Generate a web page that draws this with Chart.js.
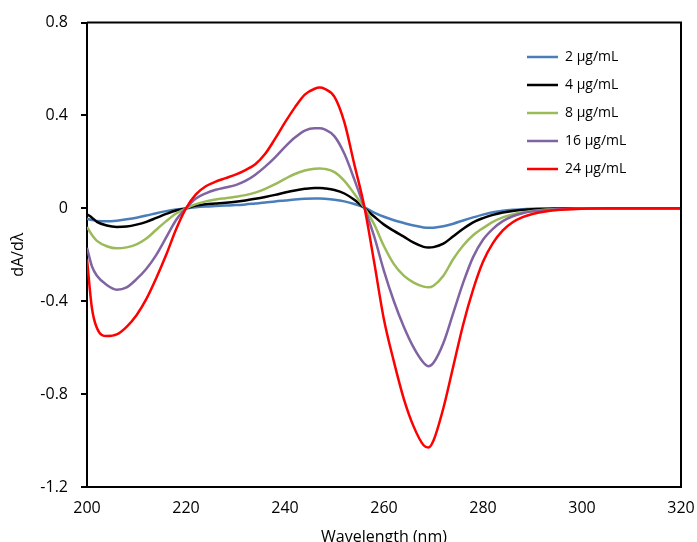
<!DOCTYPE html>
<html>
<head>
<meta charset="utf-8">
<script src="https://cdn.jsdelivr.net/npm/chart.js@4.4.1/dist/chart.umd.min.js"></script>
<style>
  html, body { margin: 0; padding: 0; background: #fff; }
  #wrap { width: 697px; height: 542px; }
</style>
</head>
<body>
<div id="wrap"><canvas id="chart" width="697" height="542"></canvas></div>
<script>
const wavelengths = [200, 201, 202, 204, 206, 208, 210, 212, 214, 216, 218, 220, 222, 224, 226, 228, 230, 232, 234, 236, 238, 240, 242, 244, 246, 247, 248, 250, 252, 254, 256, 258, 260, 262, 264, 266, 268, 269, 270, 272, 274, 276, 278, 280, 282, 284, 286, 288, 290, 295, 300, 305, 310, 315, 320];

const conc2 = [-0.045, -0.05, -0.054, -0.056, -0.053, -0.047, -0.04, -0.031, -0.021, -0.012, -0.005, 0,
  0.005, 0.008, 0.01, 0.012, 0.014, 0.017, 0.021, 0.025, 0.03, 0.034, 0.038, 0.041, 0.042, 0.042, 0.041, 0.037, 0.03, 0.019, 0.004,
  -0.018, -0.036, -0.051, -0.063, -0.074, -0.082, -0.084, -0.083, -0.077, -0.066, -0.052, -0.039, -0.027, -0.017, -0.01, -0.006, -0.004, -0.002, -0.001, 0, 0, 0, 0, 0];

const conc4 = [-0.025, -0.04, -0.058, -0.074, -0.08, -0.078, -0.07, -0.058, -0.041, -0.024, -0.009, 0,
  0.012, 0.018, 0.021, 0.024, 0.028, 0.034, 0.041, 0.049, 0.058, 0.068, 0.077, 0.084, 0.088, 0.088, 0.086, 0.079, 0.064, 0.037, 0.002,
  -0.035, -0.07, -0.097, -0.122, -0.148, -0.166, -0.169, -0.167, -0.152, -0.12, -0.088, -0.06, -0.042, -0.028, -0.018, -0.011, -0.007, -0.004, -0.001, 0, 0, 0, 0, 0];

const conc8 = [-0.08, -0.115, -0.14, -0.163, -0.172, -0.168, -0.155, -0.13, -0.092, -0.055, -0.022, 0,
  0.018, 0.03, 0.038, 0.044, 0.05, 0.057, 0.068, 0.084, 0.104, 0.127, 0.148, 0.163, 0.171, 0.172, 0.17, 0.156, 0.118, 0.063, 0.003,
  -0.068, -0.163, -0.24, -0.29, -0.32, -0.337, -0.34, -0.333, -0.29, -0.218, -0.16, -0.116, -0.085, -0.058, -0.039, -0.026, -0.017, -0.011, -0.003, -0.001, 0, 0, 0, 0];

const conc16 = [-0.17, -0.25, -0.29, -0.33, -0.35, -0.34, -0.305, -0.26, -0.2, -0.125, -0.05, 0,
  0.042, 0.065, 0.08, 0.09, 0.1, 0.118, 0.145, 0.18, 0.22, 0.265, 0.305, 0.335, 0.345, 0.345, 0.34, 0.31, 0.235, 0.125, 0.005,
  -0.12, -0.27, -0.4, -0.51, -0.6, -0.665, -0.68, -0.665, -0.58, -0.45, -0.32, -0.21, -0.135, -0.088, -0.055, -0.034, -0.021, -0.013, -0.004, -0.001, 0, 0, 0, 0];

const conc24 = [-0.22, -0.43, -0.515, -0.55, -0.543, -0.51, -0.46, -0.39, -0.3, -0.2, -0.09, 0,
  0.06, 0.095, 0.115, 0.13, 0.145, 0.165, 0.19, 0.235, 0.3, 0.37, 0.435, 0.49, 0.515, 0.52, 0.515, 0.48, 0.37, 0.19, 0.01,
  -0.23, -0.48, -0.66, -0.82, -0.94, -1.02, -1.03, -1.0, -0.86, -0.68, -0.5, -0.35, -0.23, -0.15, -0.095, -0.06, -0.038, -0.024, -0.007, -0.002, 0, 0, 0, 0];

const seriesNames = ["2 µg/mL", "4 µg/mL", "8 µg/mL", "16 µg/mL", "24 µg/mL"];
const seriesValues = [conc2, conc4, conc8, conc16, conc24];
const seriesColors = ["#4a7ebb", "#000000", "#9bbb59", "#8064a2", "#ff0000"];

const xTicks = [200, 220, 240, 260, 280, 300, 320];
const yTicks = [-1.2, -0.8, -0.4, 0, 0.4, 0.8];
const yTickLabels = ["-1.2", "-0.8", "-0.4", "0", "0.4", "0.8"];

const font = "'Open Sans', 'DejaVu Sans', sans-serif";

// box on top and right of the plot area
const frameBox = {
  id: "frameBox",
  afterDatasetsDraw(chart) {
    const { ctx, chartArea: a } = chart;
    ctx.save();
    ctx.strokeStyle = "#000";
    ctx.lineWidth = 2;
    ctx.beginPath();
    ctx.moveTo(a.left, a.top);
    ctx.lineTo(a.right, a.top);
    ctx.lineTo(a.right, a.bottom);
    ctx.stroke();
    ctx.restore();
  },
};

// put the legend inside the plot, top right
const legendSpot = {
  id: "legendSpot",
  afterLayout(chart) {
    const lg = chart.legend;
    if (!lg) return;
    lg.left = 513;
    lg.top = 36;
    lg.right = lg.left + lg.width;
    lg.bottom = lg.top + 220;
  },
};

const datasets = seriesNames.map((name, i) => ({
  label: name,
  data: wavelengths.map((w, j) => ({ x: w, y: seriesValues[i][j] })),
  borderColor: seriesColors[i],
  backgroundColor: seriesColors[i],
  borderWidth: 2.5,
  pointRadius: 0,
  cubicInterpolationMode: "monotone",
  order: seriesNames.length - 1 - i,
}));

new Chart(document.getElementById("chart"), {
  type: "line",
  data: { datasets },
  plugins: [frameBox, legendSpot],
  options: {
    responsive: false,
    animation: false,
    devicePixelRatio: 1,
    layout: { padding: { top: 20, right: 16, left: 0, bottom: 0 } },
    plugins: {
      tooltip: { enabled: false },
      legend: {
        position: "chartArea",
        align: "start",
        labels: {
          usePointStyle: true,
          pointStyle: "line",
          pointStyleWidth: 31,
          padding: 14,
          color: "#000",
          font: { family: font, size: 14 },
          sort: (a, b) => a.datasetIndex - b.datasetIndex,
        },
      },
    },
    scales: {
      x: {
        type: "linear",
        min: 200,
        max: 320,
        afterFit: (s) => {
          s.height = 55;
          s.paddingLeft = 14;
          s.paddingRight = 14;
        },
        afterBuildTicks: (s) => { s.ticks = xTicks.map((v) => ({ value: v })); },
        grid: { display: true, drawOnChartArea: false, drawTicks: false },
        border: { display: true, color: "#000", width: 2 },
        ticks: { padding: 12, color: "#000", font: { family: font, size: 16 }, maxRotation: 0 },
        title: {
          display: true,
          text: "Wavelength (nm)",
          color: "#000",
          font: { family: font, size: 16 },
          padding: { top: 0, bottom: -5 },
        },
      },
      y: {
        type: "linear",
        min: -1.2,
        max: 0.8,
        afterFit: (s) => { s.width = 87; },
        afterBuildTicks: (s) => { s.ticks = yTicks.map((v) => ({ value: v })); },
        grid: { display: true, drawOnChartArea: false, drawTicks: true, tickLength: 6, color: "#000", lineWidth: 2 },
        border: { display: true, color: "#000", width: 2 },
        ticks: {
          padding: 13,
          color: "#000",
          font: { family: font, size: 16 },
          callback: (v, i) => yTickLabels[i],
        },
        title: {
          display: true,
          text: "dA/dλ",
          color: "#000",
          font: { family: font, size: 16 },
          padding: { top: 9, bottom: 0 },
        },
      },
    },
  },
});
</script>
</body>
</html>
